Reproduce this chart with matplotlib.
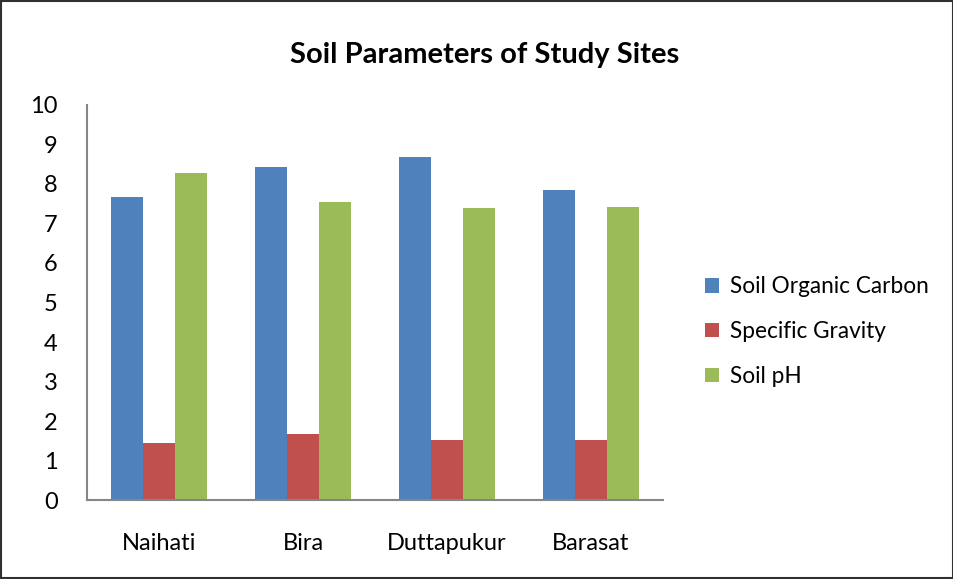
import numpy as np
import matplotlib.pyplot as plt
from matplotlib.patches import Rectangle

plt.rcParams['font.family'] = ['Lato', 'DejaVu Sans']

sites = ["Naihati", "Bira", "Duttapukur", "Barasat"]
organic_carbon = [7.67, 8.43, 8.68, 7.85]
specific_gravity = [1.45, 1.66, 1.53, 1.53]
soil_ph = [8.28, 7.54, 7.39, 7.42]

series = [
    ("Soil Organic Carbon", organic_carbon, "#4f81bd"),
    ("Specific Gravity", specific_gravity, "#c0504d"),
    ("Soil pH", soil_ph, "#9bbb59"),
]

fig = plt.figure(figsize=(9.54, 5.79), dpi=100)
ax = fig.add_axes([0.0912, 0.1364, 0.6038, 0.6823])

x = np.arange(len(sites))
w = 1 / 4.5
for i, (name, vals, col) in enumerate(series):
    ax.bar(x + (i - 1) * w, vals, w, color=col, label=name)

ax.set_xlim(-0.5, len(sites) - 0.5)
ax.set_ylim(0, 10)
ax.set_yticks(range(0, 11))
ax.set_xticks(x)
ax.set_xticklabels(sites)
ax.tick_params(axis='y', length=0, pad=21, labelsize=17)
ax.tick_params(axis='x', length=0, pad=24, labelsize=17)
for s in ["top", "right"]:
    ax.spines[s].set_visible(False)
for s in ["left", "bottom"]:
    ax.spines[s].set_color("#868686")
    ax.spines[s].set_linewidth(1.5)

fig.text(0.508, 0.905, "Soil Parameters of Study Sites", ha="center", va="center",
         fontsize=21, fontweight="bold")

fig.legend(loc="center left", bbox_to_anchor=(0.718, 0.427), frameon=False,
           fontsize=16.3, handlelength=0.6, handleheight=0.6, handletextpad=0.5,
           labelspacing=1.05)

fig.patches.append(Rectangle((0.001, 0.001), 0.998, 0.998, transform=fig.transFigure,
                             fill=False, edgecolor="#303030", linewidth=1.5))

fig.savefig("out.png", dpi=100)
